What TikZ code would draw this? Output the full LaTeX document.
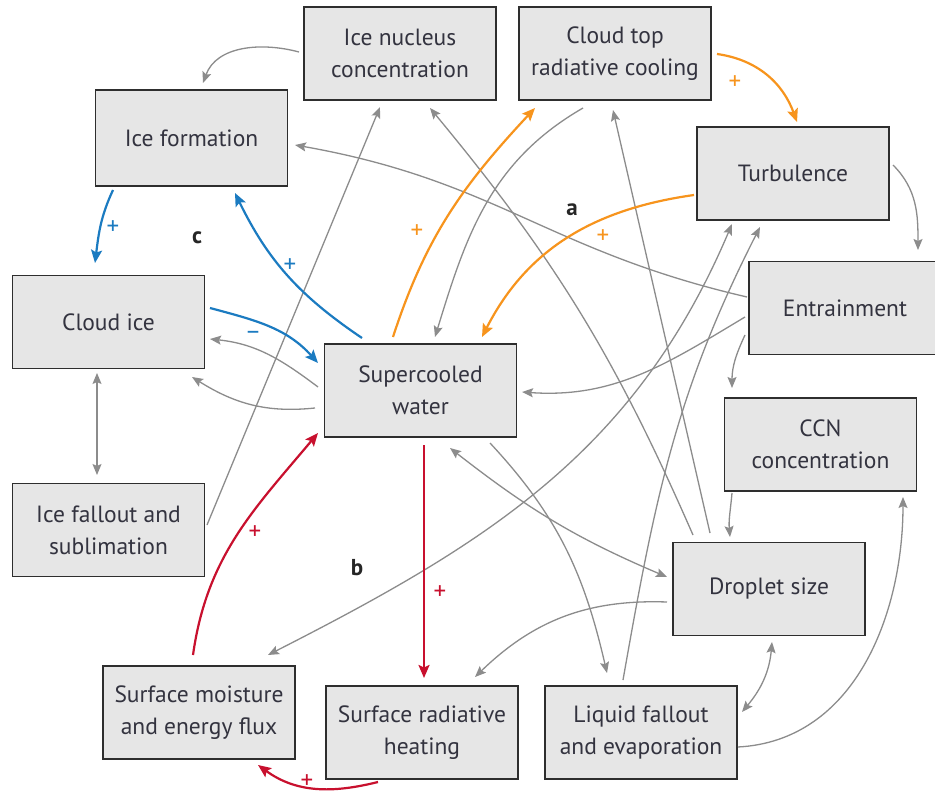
\documentclass[tikz,border=0pt]{standalone}
\usepackage{fontspec}
\setmainfont{PT Sans}
\usetikzlibrary{arrows.meta,calc}
\definecolor{boxfill}{HTML}{E6E6E6}
\definecolor{boxline}{HTML}{2E2E2E}
\definecolor{txt}{HTML}{33333F}
\definecolor{gl}{HTML}{8C8C8C}
\definecolor{bl}{HTML}{1B7BC1}
\definecolor{orng}{HTML}{F7941D}
\definecolor{rd}{HTML}{C8102E}
\begin{document}
\begin{tikzpicture}[x=1pt,y=1pt,
  box/.style={draw=boxline, line width=1.8pt, fill=boxfill, minimum width=192pt, minimum height=93pt,
    inner sep=0pt, align=center, text=txt, font=\fontsize{23.5}{32}\selectfont},
  gtip/.tip={Stealth[length=11pt,width=9pt,inset=2pt]},
  ctip/.tip={Stealth[length=13pt,width=11pt,inset=2.5pt]},
  garr/.style={draw=gl, line width=1.3pt, -gtip},
  gdbl/.style={draw=gl, line width=1.3pt, gtip-gtip},
  barr/.style={draw=bl, line width=2.2pt, -ctip},
  oarr/.style={draw=orng, line width=2.2pt, -ctip},
  rarr/.style={draw=rd, line width=2.2pt, -ctip},
  sign/.style={font=\fontsize{25}{25}\selectfont, inner sep=0pt},
  tag/.style={font=\fontsize{23}{23}\selectfont\bfseries, text=black!85, inner sep=0pt}
]
\path[use as bounding box, fill=white] (0,0) rectangle (935,-802);

% boxes
\node[box] (icenuc)    at (400,-53.5)  {Ice nucleus\\concentration};
\node[box] (cloudtop)  at (615,-53.5)  {Cloud top\\radiative cooling};
\node[box, minimum height=96pt] (iceform) at (191.5,-138) {Ice formation};
\node[box] (turb)      at (793,-173.5) {Turbulence};
\node[box] (entrain)   at (845,-308)   {Entrainment};
\node[box] (cloudice)  at (108.5,-322) {Cloud ice};
\node[box] (scw)       at (420.5,-390.5) {Supercooled\\water};
\node[box] (ccn)       at (820.5,-444.5) {CCN\\concentration};
\node[box] (icefall)   at (108.5,-530) {Ice fallout and\\sublimation};
\node[box] (droplet)   at (769,-589)   {Droplet size};
\node[box] (surfmoist) at (199,-712.5) {Surface moisture\\and energy flux};
\node[box] (surfrad)   at (422,-732.5) {Surface radiative\\heating};
\node[box] (liqfall)   at (641,-732.5) {Liquid fallout\\and evaporation};

% gray connectors
\draw[garr] ([shift={(-101,1.5)}]icenuc.center) to[out=165,in=70] ([shift={(11.5,55)}]iceform.center);
\draw[garr] ([shift={(98.5,5)}]icefall.center) -- ([shift={(-20,-53.5)}]icenuc.center);
\draw[garr] ([shift={(-76,54)}]droplet.center) to[bend right=8] ([shift={(30,-54.5)}]icenuc.center);
\draw[garr] ([shift={(-59,56)}]droplet.center) -- ([shift={(-2,-56.5)}]cloudtop.center);
\draw[garr] ([shift={(-98,11)}]entrain.center) to[out=167,in=-10,looseness=1.1] ([shift={(103.5,-7)}]iceform.center);
\draw[garr] ([shift={(-100,-9)}]entrain.center) to[out=211,in=-4] ([shift={(101.5,-1.5)}]scw.center);
\draw[garr] ([shift={(-100,-27)}]entrain.center) to[out=245,in=90] ([shift={(-88.5,56.5)}]ccn.center);
\draw[garr] ([shift={(100,8.5)}]turb.center) to[out=-45,in=90] ([shift={(73,58)}]entrain.center);
\draw[garr] ([shift={(-32,-54.5)}]cloudtop.center) to[out=210,in=73] ([shift={(14.5,53.5)}]scw.center);
\draw[garr] ([shift={(-102.5,3.5)}]scw.center) to[out=143,in=-6] ([shift={(101.5,-17)}]cloudice.center);
\draw[garr] ([shift={(-105.5,-17.5)}]scw.center) to[out=186,in=-32] ([shift={(83.5,-55)}]cloudice.center);
\draw[gdbl] ([shift={(-11.5,-51)}]cloudice.center) -- ([shift={(-11.5,55)}]icefall.center);
\draw[gdbl] ([shift={(-61,-50.5)}]turb.center) to[out=247,in=27] ([shift={(69,57.5)}]surfmoist.center);
\draw[garr] ([shift={(-18,52.5)}]liqfall.center) to[out=80,in=243] ([shift={(-33,-53.5)}]turb.center);
\draw[garr] ([shift={(69.5,-52.5)}]scw.center) to[out=-47,in=103] ([shift={(-34,59.5)}]liqfall.center);
\draw[gdbl] ([shift={(29.5,-57.5)}]scw.center) to[out=-38,in=157] ([shift={(-102,12)}]droplet.center);
\draw[garr] ([shift={(-102,-13)}]droplet.center) to[out=178,in=44] ([shift={(53,55.5)}]surfrad.center);
\draw[gdbl] ([shift={(3,-53)}]droplet.center) to[out=-95,in=50] ([shift={(101,20.5)}]liqfall.center);
\draw[garr] ([shift={(97,-14.5)}]liqfall.center) to[out=3,in=-90] ([shift={(82.5,-52.5)}]ccn.center);
\draw[garr] ([shift={(-88.5,-48.5)}]ccn.center) to[out=-95,in=95] ([shift={(-39,52)}]droplet.center);

% blue connectors
\draw[barr] ([shift={(-78.5,-52)}]iceform.center) to[out=-115,in=83] ([shift={(-13.5,59)}]cloudice.center);
\draw[barr] ([shift={(-58.5,52.5)}]scw.center) to[out=146,in=-64] ([shift={(43.5,-55)}]iceform.center);
\draw[barr] ([shift={(101.5,14)}]cloudice.center) to[out=-15,in=132] ([shift={(-102.5,27.5)}]scw.center);
% orange connectors
\draw[oarr] ([shift={(-27.5,53.5)}]scw.center) to[out=72,in=227] ([shift={(-80,-54.5)}]cloudtop.center);
\draw[oarr] ([shift={(102,-0.5)}]cloudtop.center) to[out=-8,in=110] ([shift={(4,51.5)}]turb.center);
\draw[oarr] ([shift={(-99,-21.5)}]turb.center) to[out=188,in=63] ([shift={(61.5,53.5)}]scw.center);
% red connectors
\draw[rarr] ([shift={(-6,57.5)}]surfmoist.center) to[out=82,in=230] ([shift={(-102.5,-42.5)}]scw.center);
\draw[rarr] ([shift={(3.5,-54.5)}]scw.center) -- ([shift={(2,54.5)}]surfrad.center);
\draw[rarr] ([shift={(-44,-49.5)}]surfrad.center) to[out=194,in=-36] ([shift={(59,-52.5)}]surfmoist.center);

% signs
\node[sign, text=bl] (s1) at (113,-228) {+};
\node[sign, text=bl] (s2) at (290,-266) {+};
\node[sign, text=bl] (s3) at (253,-335) {\textendash};
\node[sign, text=orng] (s4) at (417,-232) {+};
\node[sign, text=orng] (s5) at (735,-83) {+};
\node[sign, text=orng] (s6) at (603,-237) {+};
\node[sign, text=rd] (s7) at (255,-533) {+};
\node[sign, text=rd] (s8) at (440,-593) {+};
\node[sign, text=rd] (s9) at (307,-782) {+};

% tags
\node[tag] (ta) at (572,-210) {a};
\node[tag] (tb) at (357,-568) {b};
\node[tag] (tc) at (197,-238) {c};
\end{tikzpicture}
\end{document}
